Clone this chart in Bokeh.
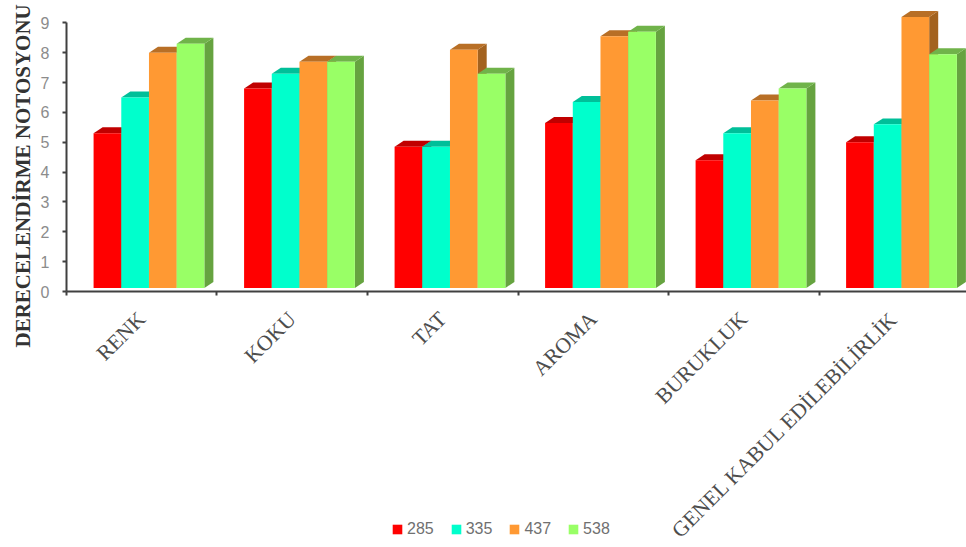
from bokeh.embed import file_html
from bokeh.resources import INLINE
from bokeh.plotting import figure
from bokeh.models import FixedTicker, Label, Legend, LegendItem, Range1d

categories = ["RENK", "KOKU", "TAT", "AROMA", "BURUKLUK", "GENEL KABUL EDİLEBİLİRLİK"]
series_names = ["285", "335", "437", "538"]
v285 = [5.3, 6.8, 4.85, 5.65, 4.4, 5.0]
v335 = [6.5, 7.3, 4.85, 6.35, 5.3, 5.6]
v437 = [8.0, 7.7, 8.1, 8.55, 6.4, 9.2]
v538 = [8.3, 7.7, 7.3, 8.7, 6.8, 7.95]
y_ticks = list(range(10))

series = [v285, v335, v437, v538]
front = ["#ff0000", "#00ffcc", "#ff9933", "#99ff66"]
top_face = ["#c00000", "#00bf99", "#b86f26", "#70b34a"]
side_face = ["#a00000", "#009f7f", "#a3621f", "#66a340"]

# Geometry of the pseudo-3D columns, in axis units
GROUP_INSET = 0.18
BAR_W = 0.184
DEPTH_X = 0.06
DEPTH_Y = 0.2
FLOOR = 0.12

# The frame fills the whole page; both axes are pinned at zero inside it,
# which leaves room for the long rotated names and the legend underneath.
p = figure(
    frame_width=966, frame_height=547, output_backend="svg", toolbar_location=None,
    x_range=Range1d(-0.4385, 5.98), y_range=Range1d(-8.576, 9.75),
    min_border=0,
    background_fill_color="white", border_fill_color="white", outline_line_color=None,
)
p.grid.visible = False

legend_items = []
for s, values in enumerate(series):
    lefts = [i + GROUP_INSET + s * BAR_W for i in range(len(values))]
    rights = [x + BAR_W for x in lefts]
    sides_x = [[r, r + DEPTH_X, r + DEPTH_X, r] for r in rights]
    sides_y = [[FLOOR, FLOOR + DEPTH_Y, v + DEPTH_Y, v] for v in values]
    tops_x = [[l, l + DEPTH_X, r + DEPTH_X, r] for l, r in zip(lefts, rights)]
    tops_y = [[v, v + DEPTH_Y, v + DEPTH_Y, v] for v in values]
    p.patches(sides_x, sides_y, fill_color=side_face[s], line_color=None)
    p.patches(tops_x, tops_y, fill_color=top_face[s], line_color=None)
    bars = p.quad(left=lefts, right=rights, bottom=FLOOR, top=values,
                  fill_color=front[s], line_color=None)
    legend_items.append(LegendItem(label=series_names[s], renderers=[bars]))

axis_color = "#404040"
p.yaxis.fixed_location = 0
p.yaxis.bounds = (0, 9)
p.yaxis.ticker = FixedTicker(ticks=y_ticks)
p.yaxis.axis_line_color = axis_color
p.yaxis.axis_line_width = 2
p.yaxis.major_tick_line_color = axis_color
p.yaxis.major_tick_line_width = 2
p.yaxis.major_tick_in = 0
p.yaxis.major_tick_out = 4
p.yaxis.minor_tick_line_color = None
p.yaxis.major_label_text_font = "Liberation Sans"
p.yaxis.major_label_text_font_size = "16px"
p.yaxis.major_label_text_color = "#8c8c8c"
p.yaxis.major_label_standoff = 13

# Category names sit mid-group, tick marks on the group boundaries
centers = [i + 0.5 for i in range(len(categories))]
p.xaxis.fixed_location = 0
p.xaxis.bounds = (0, 5.98)
p.xaxis.ticker = FixedTicker(ticks=centers, minor_ticks=list(range(len(categories) + 1)))
p.xaxis.major_label_overrides = dict(zip(centers, categories))
p.xaxis.major_label_orientation = 0.785
p.xaxis.major_label_text_font = "Liberation Serif"
p.xaxis.major_label_text_font_size = "21.5px"
p.xaxis.major_label_text_color = "#4d4d4d"
p.xaxis.major_label_standoff = 18
p.xaxis.axis_line_color = axis_color
p.xaxis.axis_line_width = 2
p.xaxis.major_tick_line_color = None
p.xaxis.minor_tick_line_color = axis_color
p.xaxis.minor_tick_line_width = 2
p.xaxis.minor_tick_in = 0
p.xaxis.minor_tick_out = 4

legend = Legend(
    items=legend_items, orientation="horizontal", location=(391, 9),
    glyph_width=12, glyph_height=12, label_standoff=4, spacing=16,
    padding=0, margin=0, border_line_color=None, background_fill_alpha=0,
    label_text_font="Liberation Sans", label_text_font_size="16px",
    label_text_color="#707070", label_height=12,
)
p.add_layout(legend, "center")

p.add_layout(Label(
    x=22, y=200, x_units="screen", y_units="screen", angle=90, angle_units="deg",
    text="DERECELENDİRME NOTOSYONU", text_font="Liberation Serif",
    text_font_size="21px", text_font_style="bold", text_color="#333333",
    text_align="left", text_baseline="middle",
))

open("out.html", "w").write(file_html(p, INLINE))
